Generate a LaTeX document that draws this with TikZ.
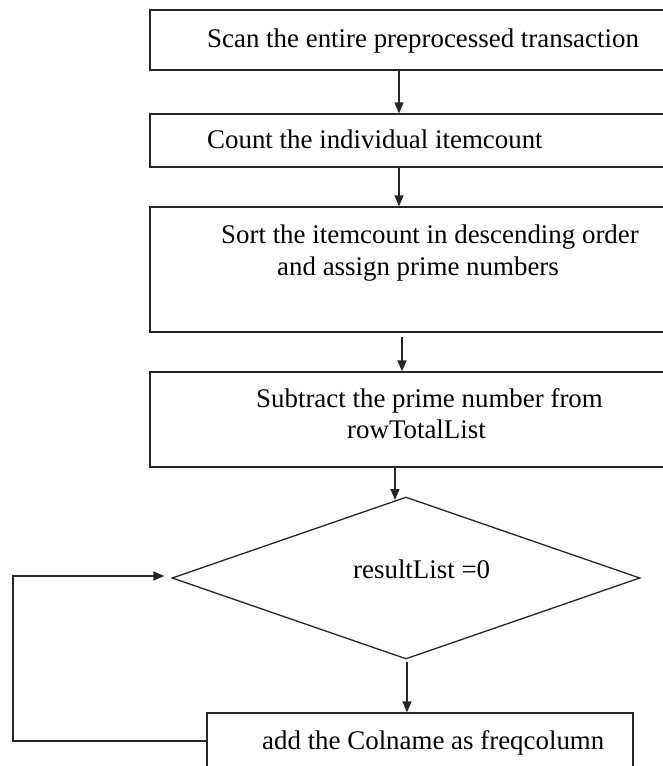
\documentclass[tikz,border=0pt]{standalone}
\usepackage{fontspec}
\setmainfont{Liberation Serif}
\usetikzlibrary{shapes.geometric,arrows.meta}
\begin{document}
\begin{tikzpicture}[x=1pt,y=-1pt,
  box/.style={draw=black!85,line width=1.3pt,rectangle,inner sep=0pt},
  dia/.style={draw=black!85,line width=1.3pt,diamond,inner sep=0pt},
  lbl/.style={anchor=base west,inner sep=0pt,font=\fontsize{26.9}{31}\selectfont},
  arr/.style={draw=black!85,line width=1.3pt,-{Triangle[width=9pt,length=11pt]}}]
\clip (0,0) rectangle (663,766);
\fill[white] (0,0) rectangle (663,766);
% boxes
\node[box,minimum width=520pt,minimum height=60pt] (b1) at (410,40) {};
\node[box,minimum width=520pt,minimum height=53pt] (b2) at (410,140.5) {};
\node[box,minimum width=520pt,minimum height=125pt] (b3) at (410,269.5) {};
\node[box,minimum width=520pt,minimum height=95pt] (b4) at (410,419.5) {};
\node[dia,minimum width=468pt,minimum height=162pt] (d) at (406,578) {};
\node[box,minimum width=426pt,minimum height=62pt] (b5) at (420,744) {};
% texts
\node[lbl] (t1) at (207,47) {Scan the entire preprocessed transaction};
\node[lbl] (t2) at (207,148) {Count the individual itemcount};
\node[lbl] (t3a) at (221,243) {Sort the itemcount in descending order};
\node[lbl] (t3b) at (277,275) {and assign prime numbers};
\node[lbl] (t4a) at (256,407) {Subtract the prime number from};
\node[lbl] (t4b) at (347,438) {rowTotalList};
\node[lbl] (td) at (353,578) {resultList =0};
\node[lbl] (t5) at (262,749) {add the Colname as freqcolumn};
% connector helper coordinates
\coordinate (x1) at (399,0);
\coordinate (x3) at (402,0);
\coordinate (s3) at (402,337);
\coordinate (x4) at (395,0);
\coordinate (e4) at (395,500);
\coordinate (x5) at (407,0);
\coordinate (s5) at (407,662);
\coordinate (lp) at (13,650);
% connectors
\draw[arr] (b1.south -| x1) -- (b2.north -| x1);
\draw[arr] (b2.south -| x1) -- (b3.north -| x1);
\draw[arr] (s3) -- (b4.north -| x3);
\draw[arr] (b4.south -| x4) -- (e4);
\draw[arr] (s5) -- (b5.north -| x5);
\draw[arr] ([yshift=3pt]b5.west) -| (lp) |- ([xshift=-7pt,yshift=2pt]d.west);
\end{tikzpicture}
\end{document}
